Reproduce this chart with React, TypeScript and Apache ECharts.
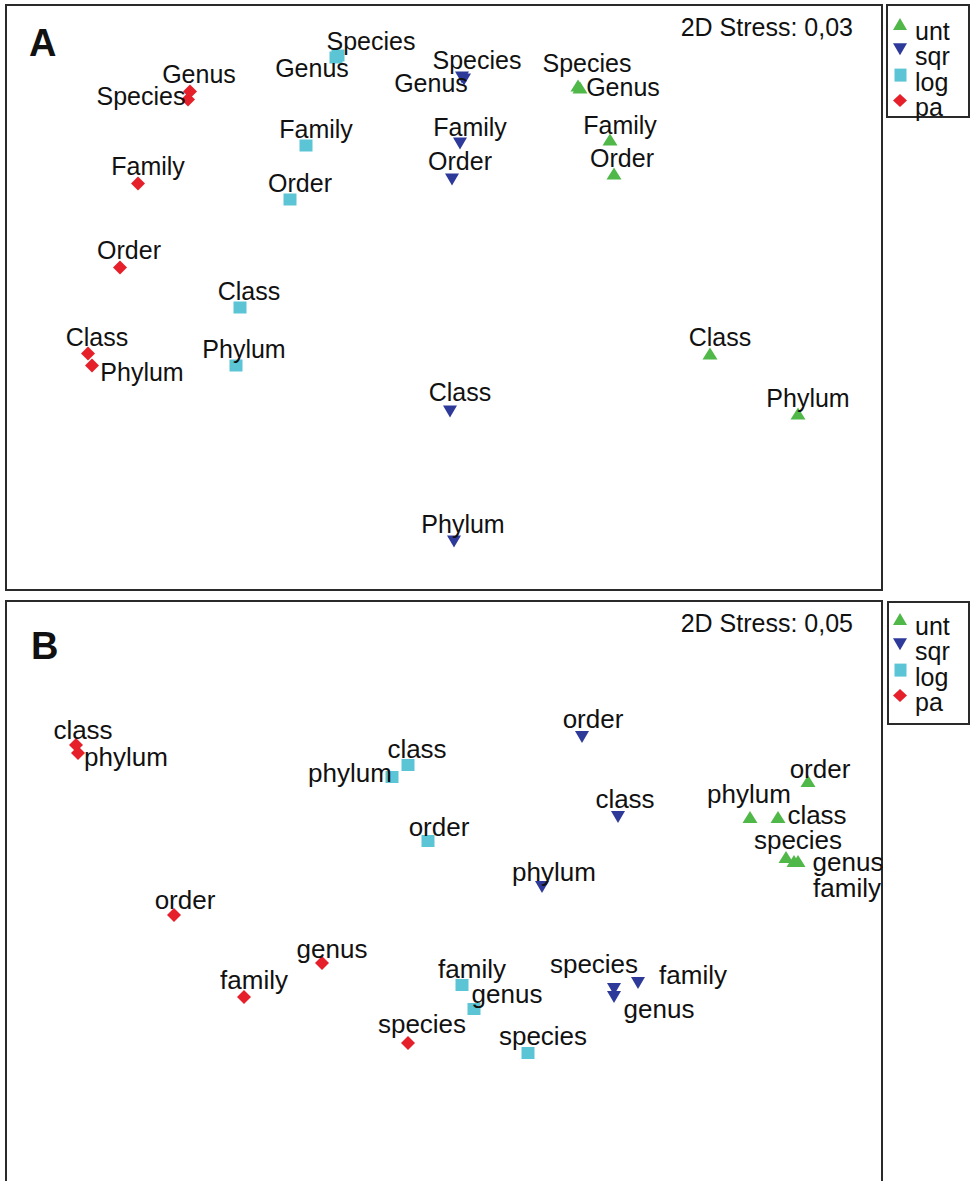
import React, { useEffect, useRef } from 'react';
import * as echarts from 'echarts';

const FONT = '"Liberation Sans", Arial, Helvetica, sans-serif';

// Group names (legend order)
const groups = ['unt', 'sqr', 'log', 'pa'];

// Taxonomic levels
const ranksA = ['Phylum', 'Class', 'Order', 'Family', 'Genus', 'Species'];
const ranksB = ['phylum', 'class', 'order', 'family', 'genus', 'species'];

// Panel A: NMDS coordinates [x, y] per level (Phylum..Species)
const aUnt = [[1.77, -0.58], [1.33, -0.28], [0.85, 0.62], [0.83, 0.79], [0.68, 1.05], [0.67, 1.06]];
const aSqr = [[0.05, -1.22], [0.03, -0.57], [0.04, 0.59], [0.08, 0.77], [0.10, 1.09], [0.09, 1.10]];
const aLog = [[-1.04, -0.34], [-1.02, -0.05], [-0.77, 0.49], [-0.69, 0.76], [-0.54, 1.20], [-0.53, 1.21]];
const aPa = [[-1.76, -0.34], [-1.78, -0.28], [-1.62, 0.15], [-1.53, 0.57], [-1.27, 1.03], [-1.28, 0.99]];

// Panel B: NMDS coordinates [x, y] per level (phylum..species)
const bUnt = [[1.53, 0.42], [1.67, 0.42], [1.82, 0.60], [1.75, 0.20], [1.77, 0.20], [1.71, 0.22]];
const bSqr = [[0.49, 0.07], [0.87, 0.42], [0.69, 0.82], [0.97, -0.41], [0.85, -0.48], [0.85, -0.44]];
const bLog = [[-0.26, 0.62], [-0.18, 0.68], [-0.08, 0.30], [0.09, -0.42], [0.15, -0.54], [0.42, -0.76]];
const bPa = [[-1.83, 0.74], [-1.84, 0.78], [-1.35, -0.07], [-1.00, -0.48], [-0.61, -0.31], [-0.18, -0.71]];

const stressA = '2D Stress: 0,03';
const stressB = '2D Stress: 0,05';

// ---- layout (label offsets in px, relative to the marker) ----
const offA: Record<string, number[][]> = {
  unt: [[10, -16], [10, -17], [8, -16], [10, -15], [43, -1], [9, -23]],
  sqr: [[9, -18], [10, -20], [8, -19], [10, -17], [-33, 3], [15, -18]],
  log: [[8, -17], [9, -17], [10, -17], [10, -17], [-24, 10], [33, -15]],
  pa: [[50, 6], [9, -17], [9, -18], [10, -18], [9, -18], [-47, -4]],
};
const offB: Record<string, number[][]> = {
  unt: [[-1, -23], [39, -2], [12, -12], [53, 27], [50, 1], [12, -17]],
  sqr: [[12, -15], [7, -18], [11, -18], [55, -8], [45, 12], [-20, -25]],
  log: [[-42, -4], [9, -16], [11, -14], [10, -16], [33, -15], [15, -17]],
  pa: [[48, 4], [7, -15], [11, -15], [10, -17], [10, -14], [14, -19]],
};

const DOWN_TRI = 'path://M0,0L10,0L5,9Z';
const style: Record<string, { symbol: string; size: number[]; color: string }> = {
  unt: { symbol: 'triangle', size: [15, 12], color: '#4FB848' },
  sqr: { symbol: DOWN_TRI, size: [14, 12], color: '#2E3A9A' },
  log: { symbol: 'rect', size: [13, 12], color: '#5BC5D5' },
  pa: { symbol: 'diamond', size: [14, 14], color: '#E6202A' },
};

// legend icons: shape in the top part of a 14x26 box, so the label sits a bit lower
const legendIcon: Record<string, string> = {
  unt: 'path://M7,0L14,12L0,12Z M0,26',
  sqr: 'path://M0,0L14,0L7,12Z M0,26',
  log: 'path://M1,0L13,0L13,13L1,13Z M0,26',
  pa: 'path://M7,0L14,6.5L7,13L0,6.5Z M0,26',
};

function makeSeries(
  panel: number,
  name: string,
  pts: number[][],
  ranks: string[],
  offs: number[][],
  fontSize: number
) {
  const s = style[name];
  return {
    type: 'scatter',
    name,
    xAxisIndex: panel,
    yAxisIndex: panel,
    symbol: s.symbol,
    symbolSize: s.size,
    itemStyle: { color: s.color, opacity: 1 },
    clip: false,
    label: {
      show: true,
      position: 'inside',
      formatter: '{b}',
      fontSize,
      fontFamily: FONT,
      color: '#111',
      textBorderWidth: 0,
      align: 'center',
      verticalAlign: 'middle',
    },
    emphasis: { disabled: true },
    data: pts.map((p, i) => ({
      name: ranks[i],
      value: p,
      label: { offset: offs[i] },
    })),
  };
}

function legendCfg(top: number) {
  return {
    orient: 'vertical',
    left: 893,
    top,
    padding: 0,
    itemGap: -0.7,
    itemWidth: 14,
    itemHeight: 26,
    selectedMode: false,
    textStyle: {
      fontSize: 25,
      fontFamily: FONT,
      color: '#111',
      padding: [0, 0, 0, 3],
    },
    data: groups.map((g) => ({ name: g, icon: legendIcon[g] })),
  };
}

export default function App() {
  const ref = useRef<HTMLDivElement>(null);
  useEffect(() => {
    if (!ref.current) return;
    const chart = echarts.init(ref.current, undefined, { renderer: 'svg' });
    const axisCommon = { type: 'value', show: false, splitLine: { show: false } };
    const option: any = {
      animation: false,
      backgroundColor: '#ffffff',
      grid: [
        { left: 6, top: 5, width: 876, height: 585, show: false },
        { left: 6, top: 601, width: 876, height: 580, show: false },
      ],
      xAxis: [
        { ...axisCommon, gridIndex: 0, min: -2.19, max: 2.19 },
        { ...axisCommon, gridIndex: 1, min: -2.19, max: 2.19 },
      ],
      yAxis: [
        { ...axisCommon, gridIndex: 0, min: -1.4625, max: 1.4625 },
        { ...axisCommon, gridIndex: 1, min: -1.4, max: 1.5 },
      ],
      legend: [legendCfg(18), legendCfg(613)],
      series: [
        makeSeries(0, 'unt', aUnt, ranksA, offA.unt, 25),
        makeSeries(0, 'sqr', aSqr, ranksA, offA.sqr, 25),
        makeSeries(0, 'log', aLog, ranksA, offA.log, 25),
        makeSeries(0, 'pa', aPa, ranksA, offA.pa, 25),
        makeSeries(1, 'unt', bUnt, ranksB, offB.unt, 26),
        makeSeries(1, 'sqr', bSqr, ranksB, offB.sqr, 26),
        makeSeries(1, 'log', bLog, ranksB, offB.log, 26),
        makeSeries(1, 'pa', bPa, ranksB, offB.pa, 26),
      ],
      graphic: [
        {
          type: 'rect',
          shape: { x: 6, y: 5, width: 876, height: 585 },
          style: { fill: 'none', stroke: '#2a2a2a', lineWidth: 2 },
          silent: true,
        },
        {
          type: 'rect',
          shape: { x: 6, y: 601, width: 876, height: 640 },
          style: { fill: 'none', stroke: '#2a2a2a', lineWidth: 2 },
          silent: true,
        },
        {
          type: 'rect',
          shape: { x: 887, y: 5, width: 82, height: 112 },
          style: { fill: 'none', stroke: '#2a2a2a', lineWidth: 2 },
          silent: true,
        },
        {
          type: 'rect',
          shape: { x: 888, y: 602, width: 81, height: 122 },
          style: { fill: 'none', stroke: '#2a2a2a', lineWidth: 2 },
          silent: true,
        },
        {
          type: 'text',
          x: 29,
          y: 43,
          style: {
            text: 'A',
            fontSize: 38,
            fontWeight: 'bold',
            fontFamily: FONT,
            fill: '#111',
            align: 'left',
            verticalAlign: 'middle',
          },
        },
        {
          type: 'text',
          x: 31,
          y: 646,
          style: {
            text: 'B',
            fontSize: 38,
            fontWeight: 'bold',
            fontFamily: FONT,
            fill: '#111',
            align: 'left',
            verticalAlign: 'middle',
          },
        },
        {
          type: 'text',
          x: 853,
          y: 27,
          style: {
            text: stressA,
            fontSize: 25,
            fontFamily: FONT,
            fill: '#111',
            align: 'right',
            verticalAlign: 'middle',
          },
        },
        {
          type: 'text',
          x: 853,
          y: 623,
          style: {
            text: stressB,
            fontSize: 25,
            fontFamily: FONT,
            fill: '#111',
            align: 'right',
            verticalAlign: 'middle',
          },
        },
      ],
    };
    chart.setOption(option);
    return () => chart.dispose();
  }, []);
  return (
    <div
      ref={ref}
      style={{ position: 'absolute', left: 0, top: 0, width: 971, height: 1181 }}
    />
  );
}
